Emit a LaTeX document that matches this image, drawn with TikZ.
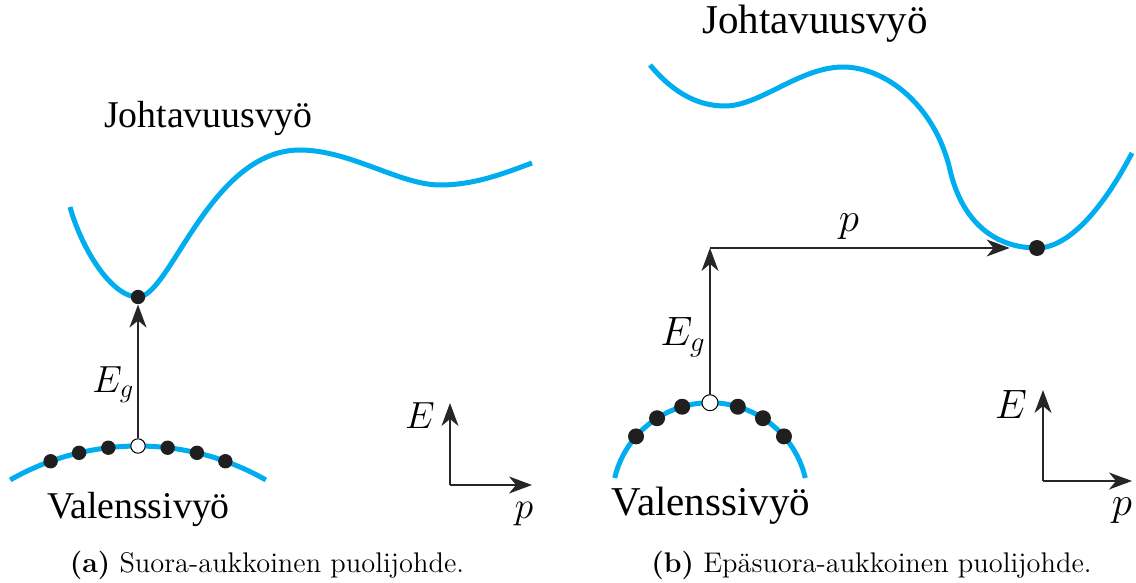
\RequirePackage{fix-cm}
\documentclass[tikz,border=0pt]{standalone}
\usepackage{fontspec}
\newfontfamily\tms{LiberationSerif}[Extension=.ttf, UprightFont=*-Regular, BoldFont=*-Bold]
\usetikzlibrary{arrows.meta,calc}
\definecolor{bandblue}{RGB}{0,174,239}
\newcommand{\sizeA}{\fontsize{18.9}{22}\selectfont}
\newcommand{\sizeB}{\fontsize{20.5}{24}\selectfont}
\newcommand{\sizeC}{\fontsize{14.2}{17}\selectfont}
\begin{document}
\begin{tikzpicture}[x=0.5pt,y=-0.5pt,
  bandline/.style={draw=bandblue, line width=2.5pt},
  dota/.style={circle, fill=black!88, inner sep=0pt, minimum size=7.2pt},
  dotb/.style={circle, fill=black!88, inner sep=0pt, minimum size=8pt},
  holea/.style={circle, draw=black, fill=white, line width=0.5pt, inner sep=0pt, minimum size=7.2pt},
  holeb/.style={circle, draw=black, fill=white, line width=0.5pt, inner sep=0pt, minimum size=8pt},
  arr/.style={line width=0.6pt, draw=black!85, -{Stealth[length=11.5pt,width=8.5pt,inset=3.5pt]}},
  txta/.style={font=\tms\sizeA, inner sep=0pt, anchor=base},
  txtb/.style={font=\tms\sizeB, inner sep=0pt, anchor=base},
  capt/.style={font=\sizeC, inner sep=0pt, anchor=base}]
\useasboundingbox (0,0) rectangle (1136,583);

% ---------- panel (a) ----------
\draw[bandline] (70,207) .. controls (82,250) and (112,297) .. (138,297)
  .. controls (170,297) and (210,150) .. (300,150)
  .. controls (350,150) and (400,185) .. (440,185)
  .. controls (475,185) and (505,173) .. (532,163);
\coordinate (ca) at (138,704);
\draw[bandline] ($(ca)+(240.3:258)$) arc[start angle=240.3, end angle=299.7, radius=258];
\foreach \a/\n in {250.2/1,256.8/2,263.4/3,276.6/5,283.2/6,289.8/7}
  \node[dota] (va\n) at ($(ca)+(\a:258)$) {};
\node[holea] (ha) at ($(ca)+(270:258)$) {};
\node[dota] (cam) at (138,297) {};
\draw[arr] (ha) -- (cam);
\node[txta, anchor=base west] (ega) at (92,392) {$E_g$};
\node[txta] (jva) at (208,127) {Johtavuusvyö};
\node[txta] (vva) at (138.5,518) {Valenssivyö};
% axes a
\coordinate (oa) at (450,485);
\coordinate (ea) at (450,403);
\coordinate (pa) at (532,485);
\draw[arr] (oa) -- (ea);
\draw[arr] (oa) -- (pa);
\node[txta] (elA) at (420,428) {$E$};
\node[txta] (plA) at (524,518) {$p$};
\node[capt] (capa) at (267,572) {\textbf{(a)} Suora-aukkoinen puolijohde.};

% ---------- panel (b) ----------
\draw[bandline] (650,65) .. controls (675,95) and (700,106) .. (725,106)
  .. controls (760,106) and (800,67) .. (843,67)
  .. controls (885,67) and (935,105) .. (950,170)
  .. controls (962,222) and (995,248) .. (1037,248)
  .. controls (1070,248) and (1105,205) .. (1132,153);
\coordinate (cb) at (710,500.7);
\draw[bandline] ($(cb)+(193.4:98)$) arc[start angle=193.4, end angle=346.6, radius=98];
\foreach \a/\n in {221/1,237.3/2,253.5/3,286.5/5,302.7/6,319/7}
  \node[dotb] (vb\n) at ($(cb)+(\a:98)$) {};
\node[holeb] (hb) at ($(cb)+(270:98)$) {};
\node[dotb] (cbm) at (1037,248) {};
\coordinate (kb) at (710,248);
\draw[arr] (hb) -- (kb);
\draw[arr, shorten >=9.5pt] (kb) -- (cbm);
\node[txtb] (plb) at (849,232) {$p$};
\node[txtb, anchor=base west] (egb) at (660,345) {$E_g$};
\node[txtb] (jvb) at (815,34) {Johtavuusvyö};
\node[txtb] (vvb) at (711,515) {Valenssivyö};
% axes b
\coordinate (ob) at (1043,481);
\coordinate (eb) at (1043,390);
\coordinate (pb) at (1132,481);
\draw[arr] (ob) -- (eb);
\draw[arr] (ob) -- (pb);
\node[txtb] (elB) at (1011,418) {$E$};
\node[txtb] (plB) at (1122,515) {$p$};
\node[capt] (capb) at (871.5,572) {\textbf{(b)} Epäsuora-aukkoinen puolijohde.};
\end{tikzpicture}
\end{document}
